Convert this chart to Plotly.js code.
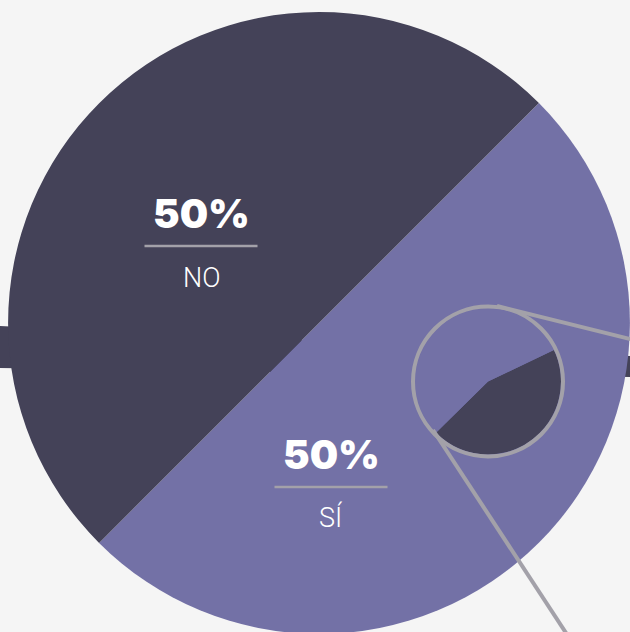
<!DOCTYPE html>
<html>
<head>
<meta charset="utf-8">
<script src="https://cdn.plot.ly/plotly-3.0.1.min.js"></script>
<style>
  html, body { margin: 0; padding: 0; background: #F5F5F5; overflow: hidden; }
  #chart { width: 630px; height: 634px; }
</style>
</head>
<body>
<div id="chart"></div>
<script>
// main pie
const labels = ['SÍ', 'NO'];
const values = [50, 50];
const sliceColors = ['#7371A6', '#444258'];

// magnifier inset (zoomed detail)
const zoomLabels = ['NO', 'SÍ'];
const zoomValues = [44.7, 55.3];
const zoomColors = ['#444258', '#7371A6'];

const GREY = '#A3A1A9';
const ML = 8, MT = 12, PW = 622, PH = 622;

// pixel -> paper helpers, only used for decorations
const px = (x) => (x - ML) / PW;
const py = (y) => 1 - (y - MT) / PH;

const zoomC = { x: 488, y: 381.5, r: 73 };

const data = [
  {
    type: 'pie',
    labels: labels,
    values: values,
    sort: false,
    direction: 'clockwise',
    rotation: 45,
    textinfo: 'none',
    hoverinfo: 'none',
    marker: { colors: sliceColors, line: { width: 0 } },
    domain: { x: [0, 1], y: [0, 1] }
  },
  {
    type: 'pie',
    labels: zoomLabels,
    values: zoomValues,
    sort: false,
    direction: 'clockwise',
    rotation: 64.5,
    textinfo: 'none',
    hoverinfo: 'none',
    marker: { colors: zoomColors, line: { width: 0 } },
    domain: {
      x: [px(zoomC.x - zoomC.r), px(zoomC.x + zoomC.r)],
      y: [py(zoomC.y + zoomC.r), py(zoomC.y - zoomC.r)]
    }
  }
];

// label blocks: big percent, thin rule, answer
const labelPos = {
  'NO': { x: 201, pct: 214, rule: 246, name: 278 },
  'SÍ': { x: 331, pct: 454, rule: 487, name: 517 }
};

const annotations = [];
const shapes = [];

labels.forEach((lab, i) => {
  const p = labelPos[lab];
  annotations.push({
    xref: 'paper', yref: 'paper', x: px(p.x), y: py(p.pct),
    xanchor: 'center', yanchor: 'middle', showarrow: false,
    text: values[i] + '%',
    font: { family: 'Inter, Roboto, sans-serif', size: 40, weight: 900, color: '#FFFFFF' }
  });
  annotations.push({
    xref: 'paper', yref: 'paper', x: px(p.x), y: py(p.name),
    xanchor: 'center', yanchor: 'middle', showarrow: false,
    text: lab,
    font: { family: 'Roboto, sans-serif', size: 27, weight: 300, color: '#FFFFFF' }
  });
  shapes.push({
    type: 'line', xref: 'paper', yref: 'paper', layer: 'above',
    x0: px(p.x - 56.5), x1: px(p.x + 56.5), y0: py(p.rule), y1: py(p.rule),
    line: { color: GREY, width: 2.5 }
  });
});

// dark band behind the pie
shapes.push({
  type: 'path', xref: 'paper', yref: 'paper', layer: 'below',
  path: `M ${px(-2)} ${py(326)} L ${px(632)} ${py(356)} L ${px(632)} ${py(377)} L ${px(-2)} ${py(368)} Z`,
  fillcolor: '#444258', line: { width: 0 }
});

// magnifier ring and its two leader lines
shapes.push({
  type: 'circle', xref: 'paper', yref: 'paper', layer: 'above',
  x0: px(zoomC.x - 75), x1: px(zoomC.x + 75),
  y0: py(zoomC.y + 75), y1: py(zoomC.y - 75),
  line: { color: GREY, width: 4 }, fillcolor: 'rgba(0,0,0,0)'
});
shapes.push({
  type: 'line', xref: 'paper', yref: 'paper', layer: 'above',
  x0: px(497), y0: py(306), x1: px(634), y1: py(340),
  line: { color: GREY, width: 4 }
});
shapes.push({
  type: 'line', xref: 'paper', yref: 'paper', layer: 'above',
  x0: px(433), y0: py(430), x1: px(568), y1: py(636),
  line: { color: GREY, width: 4 }
});

const layout = {
  width: 630,
  height: 634,
  margin: { l: ML, r: 0, t: MT, b: 0 },
  paper_bgcolor: '#F5F5F5',
  plot_bgcolor: '#F5F5F5',
  showlegend: false,
  annotations: annotations,
  shapes: shapes
};

Plotly.newPlot('chart', data, layout, { displayModeBar: false, staticPlot: true });
</script>
</body>
</html>
